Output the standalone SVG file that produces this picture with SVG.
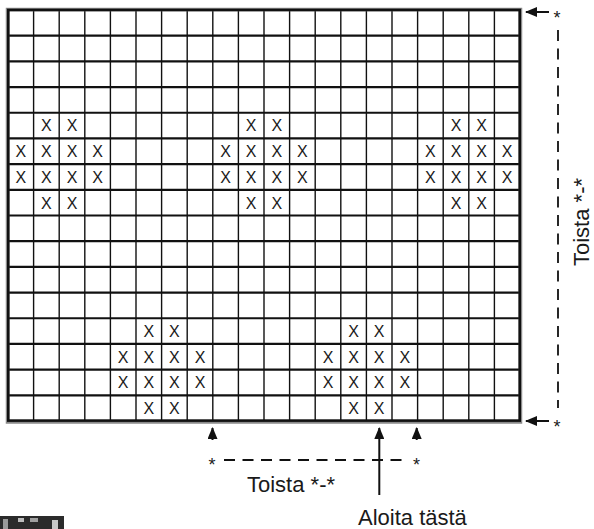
<svg xmlns="http://www.w3.org/2000/svg" width="594" height="529" viewBox="0 0 594 529">
<style>
.x{font-family:"Liberation Sans",Arial,sans-serif;font-size:16px;fill:#1a1a1a;text-anchor:middle}
.lbl{font-family:"Liberation Sans",Arial,sans-serif;font-size:22px;fill:#1a1a1a}
.ast{font-family:"Liberation Sans",Arial,sans-serif;font-size:18px;fill:#1a1a1a;text-anchor:middle}
.v{stroke:#111;stroke-width:1.4}
.h{stroke:#111;stroke-width:2.2}
.dash{stroke:#111;stroke-width:1.8;fill:none;stroke-dasharray:11 7.5}
.ln{stroke:#111;stroke-width:2;fill:none}
</style>
<defs>
<marker id="ah" viewBox="0 0 12 10" refX="11" refY="5" markerWidth="12" markerHeight="10" markerUnits="userSpaceOnUse" orient="auto">
<path d="M0,0 L12,5 L0,10 Z" fill="#111"/>
</marker>
</defs>
<rect width="594" height="529" fill="#fff"/>
<g id="grid">
<g id="vlines">
<line class="v" x1="33.6" y1="10" x2="33.6" y2="421"/>
<line class="v" x1="59.2" y1="10" x2="59.2" y2="421"/>
<line class="v" x1="84.8" y1="10" x2="84.8" y2="421"/>
<line class="v" x1="110.4" y1="10" x2="110.4" y2="421"/>
<line class="v" x1="136" y1="10" x2="136" y2="421"/>
<line class="v" x1="161.6" y1="10" x2="161.6" y2="421"/>
<line class="v" x1="187.2" y1="10" x2="187.2" y2="421"/>
<line class="v" x1="212.8" y1="10" x2="212.8" y2="421"/>
<line class="v" x1="238.4" y1="10" x2="238.4" y2="421"/>
<line class="v" x1="264" y1="10" x2="264" y2="421"/>
<line class="v" x1="289.6" y1="10" x2="289.6" y2="421"/>
<line class="v" x1="315.2" y1="10" x2="315.2" y2="421"/>
<line class="v" x1="340.8" y1="10" x2="340.8" y2="421"/>
<line class="v" x1="366.4" y1="10" x2="366.4" y2="421"/>
<line class="v" x1="392" y1="10" x2="392" y2="421"/>
<line class="v" x1="417.6" y1="10" x2="417.6" y2="421"/>
<line class="v" x1="443.2" y1="10" x2="443.2" y2="421"/>
<line class="v" x1="468.8" y1="10" x2="468.8" y2="421"/>
<line class="v" x1="494.4" y1="10" x2="494.4" y2="421"/>
</g>
<g id="hlines">
<line class="h" x1="8" y1="35.69" x2="520" y2="35.69"/>
<line class="h" x1="8" y1="61.38" x2="520" y2="61.38"/>
<line class="h" x1="8" y1="87.06" x2="520" y2="87.06"/>
<line class="h" x1="8" y1="112.75" x2="520" y2="112.75"/>
<line class="h" x1="8" y1="138.44" x2="520" y2="138.44"/>
<line class="h" x1="8" y1="164.13" x2="520" y2="164.13"/>
<line class="h" x1="8" y1="189.81" x2="520" y2="189.81"/>
<line class="h" x1="8" y1="215.5" x2="520" y2="215.5"/>
<line class="h" x1="8" y1="241.19" x2="520" y2="241.19"/>
<line class="h" x1="8" y1="266.88" x2="520" y2="266.88"/>
<line class="h" x1="8" y1="292.56" x2="520" y2="292.56"/>
<line class="h" x1="8" y1="318.25" x2="520" y2="318.25"/>
<line class="h" x1="8" y1="343.94" x2="520" y2="343.94"/>
<line class="h" x1="8" y1="369.63" x2="520" y2="369.63"/>
<line class="h" x1="8" y1="395.31" x2="520" y2="395.31"/>
</g>
<rect x="7.5" y="9.5" width="513" height="412.5" fill="none" stroke="#8a8a8a" stroke-width="3.5"/>
<rect x="8.3" y="10" width="511.4" height="410.6" fill="none" stroke="#111" stroke-width="2.6"/>
</g>
<g id="stitches">
<text class="x" x="46.4" y="131.4">X</text><text class="x" x="72" y="131.4">X</text>
<text class="x" x="251.2" y="131.4">X</text><text class="x" x="276.8" y="131.4">X</text>
<text class="x" x="456" y="131.4">X</text><text class="x" x="481.6" y="131.4">X</text>
<text class="x" x="20.8" y="157.1">X</text><text class="x" x="46.4" y="157.1">X</text><text class="x" x="72" y="157.1">X</text><text class="x" x="97.6" y="157.1">X</text>
<text class="x" x="225.6" y="157.1">X</text><text class="x" x="251.2" y="157.1">X</text><text class="x" x="276.8" y="157.1">X</text><text class="x" x="302.4" y="157.1">X</text>
<text class="x" x="430.4" y="157.1">X</text><text class="x" x="456" y="157.1">X</text><text class="x" x="481.6" y="157.1">X</text><text class="x" x="507.2" y="157.1">X</text>
<text class="x" x="20.8" y="182.8">X</text><text class="x" x="46.4" y="182.8">X</text><text class="x" x="72" y="182.8">X</text><text class="x" x="97.6" y="182.8">X</text>
<text class="x" x="225.6" y="182.8">X</text><text class="x" x="251.2" y="182.8">X</text><text class="x" x="276.8" y="182.8">X</text><text class="x" x="302.4" y="182.8">X</text>
<text class="x" x="430.4" y="182.8">X</text><text class="x" x="456" y="182.8">X</text><text class="x" x="481.6" y="182.8">X</text><text class="x" x="507.2" y="182.8">X</text>
<text class="x" x="46.4" y="208.5">X</text><text class="x" x="72" y="208.5">X</text>
<text class="x" x="251.2" y="208.5">X</text><text class="x" x="276.8" y="208.5">X</text>
<text class="x" x="456" y="208.5">X</text><text class="x" x="481.6" y="208.5">X</text>
<text class="x" x="148.8" y="336.9">X</text><text class="x" x="174.4" y="336.9">X</text>
<text class="x" x="353.6" y="336.9">X</text><text class="x" x="379.2" y="336.9">X</text>
<text class="x" x="123.2" y="362.6">X</text><text class="x" x="148.8" y="362.6">X</text><text class="x" x="174.4" y="362.6">X</text><text class="x" x="200" y="362.6">X</text>
<text class="x" x="328" y="362.6">X</text><text class="x" x="353.6" y="362.6">X</text><text class="x" x="379.2" y="362.6">X</text><text class="x" x="404.8" y="362.6">X</text>
<text class="x" x="123.2" y="388.3">X</text><text class="x" x="148.8" y="388.3">X</text><text class="x" x="174.4" y="388.3">X</text><text class="x" x="200" y="388.3">X</text>
<text class="x" x="328" y="388.3">X</text><text class="x" x="353.6" y="388.3">X</text><text class="x" x="379.2" y="388.3">X</text><text class="x" x="404.8" y="388.3">X</text>
<text class="x" x="148.8" y="414">X</text><text class="x" x="174.4" y="414">X</text>
<text class="x" x="353.6" y="414">X</text><text class="x" x="379.2" y="414">X</text>
</g>
<g id="connectors">
<line class="ln" x1="549" y1="12" x2="526" y2="12" marker-end="url(#ah)"/>
<line class="ln" x1="549" y1="421" x2="526" y2="421" marker-end="url(#ah)"/>
<line class="dash" x1="558" y1="30" x2="558" y2="408"/>
<line class="ln" x1="212.5" y1="440" x2="212.5" y2="428" marker-end="url(#ah)"/>
<line class="ln" x1="416.7" y1="440" x2="416.7" y2="428" marker-end="url(#ah)"/>
<line class="ln" x1="379.3" y1="495" x2="379.3" y2="428" marker-end="url(#ah)"/>
<line class="dash" x1="224" y1="460" x2="404" y2="460"/>
</g>
<g id="labels">
<text class="ast" x="557" y="24">*</text>
<text class="ast" x="557" y="433">*</text>
<text class="ast" x="212" y="471">*</text>
<text class="ast" x="416.5" y="471">*</text>
<text class="lbl" x="247" y="492">Toista *-*</text>
<text class="lbl" x="358" y="525">Aloita tästä</text>
<text class="lbl" transform="translate(589,266) rotate(-90)">Toista *-*</text>
</g>
<g id="logo-fragment">
<rect x="0" y="516" width="64" height="13" fill="#2b2b2b"/>
<rect x="3" y="519" width="5" height="10" fill="#9a9a9a"/>
<rect x="18" y="518" width="6" height="4" fill="#bdbdbd"/>
<rect x="30" y="518" width="8" height="4" fill="#a0a0a0"/>
<rect x="52" y="520" width="6" height="9" fill="#c8c8c8"/>
</g>
</svg>
